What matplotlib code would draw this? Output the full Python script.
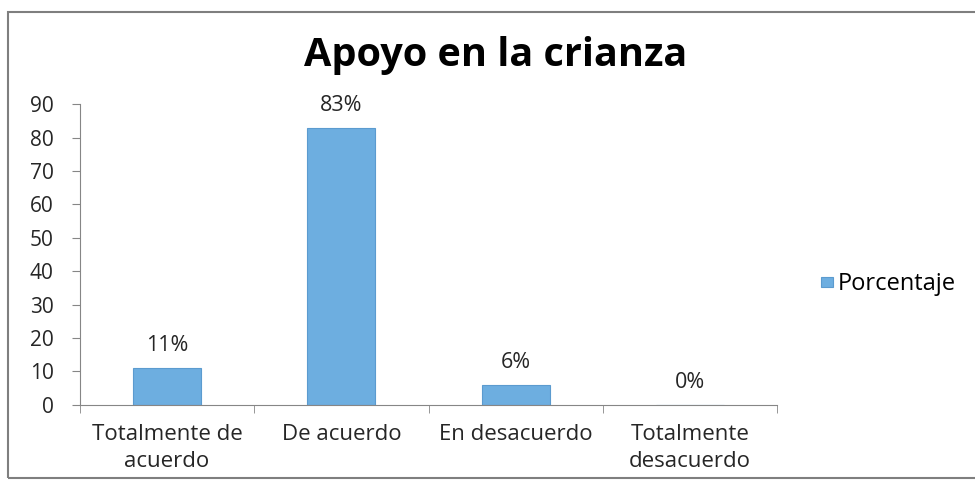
import numpy as np
import matplotlib.pyplot as plt
from matplotlib.patches import Rectangle

plt.rcParams['font.family'] = ['Open Sans', 'DejaVu Sans']

categorias = ['Totalmente de\nacuerdo', 'De acuerdo', 'En desacuerdo', 'Totalmente\ndesacuerdo']
porcentaje = [11, 83, 6, 0]
etiquetas = ['11%', '83%', '6%', '0%']

fig = plt.figure(figsize=(9.75, 4.82), dpi=100)
fig.patches.append(Rectangle((8 / 975, 4 / 482), 1.2, 466 / 482, transform=fig.transFigure,
                             fill=False, edgecolor='#7f7f7f', linewidth=1.5))

ax = fig.add_axes([0.082, 0.16, 0.715, 0.624])
x = np.arange(len(categorias))
ax.bar(x, porcentaje, width=0.39, color='#6daee0', edgecolor='#5b9bcf', linewidth=0.8,
       label='Porcentaje')
for xi, v, t in zip(x, porcentaje, etiquetas):
    ax.text(xi, v + 3.5, t, ha='center', va='bottom', fontsize=15.5, color='#262626')

ax.set_xlim(-0.5, 3.5)
ax.set_ylim(0, 90)
ax.set_yticks(range(0, 91, 10))
ax.set_xticks(x)
ax.set_xticklabels(categorias, fontsize=16, color='#262626', linespacing=1.35)
ax.set_xticks(np.arange(-0.5, 4, 1), minor=True)
ax.tick_params(axis='x', which='major', length=0, pad=14)
ax.tick_params(axis='x', which='minor', length=6, color='#868686')
ax.tick_params(axis='y', labelsize=15, labelcolor='#262626', length=6, color='#868686', pad=13)
for s in ['top', 'right']:
    ax.spines[s].set_visible(False)
ax.spines['left'].set_color('#868686')
ax.spines['bottom'].set_color('#868686')

fig.text(0.508, 0.885, 'Apoyo en la crianza', ha='center', va='center', fontsize=28.5,
         fontweight='bold', color='black')

fig.legend(loc='center left', bbox_to_anchor=(0.82, 0.41), frameon=False, fontsize=17,
           handlelength=0.5, handleheight=0.3, handletextpad=0.2)

fig.savefig('out.png', dpi=100)
